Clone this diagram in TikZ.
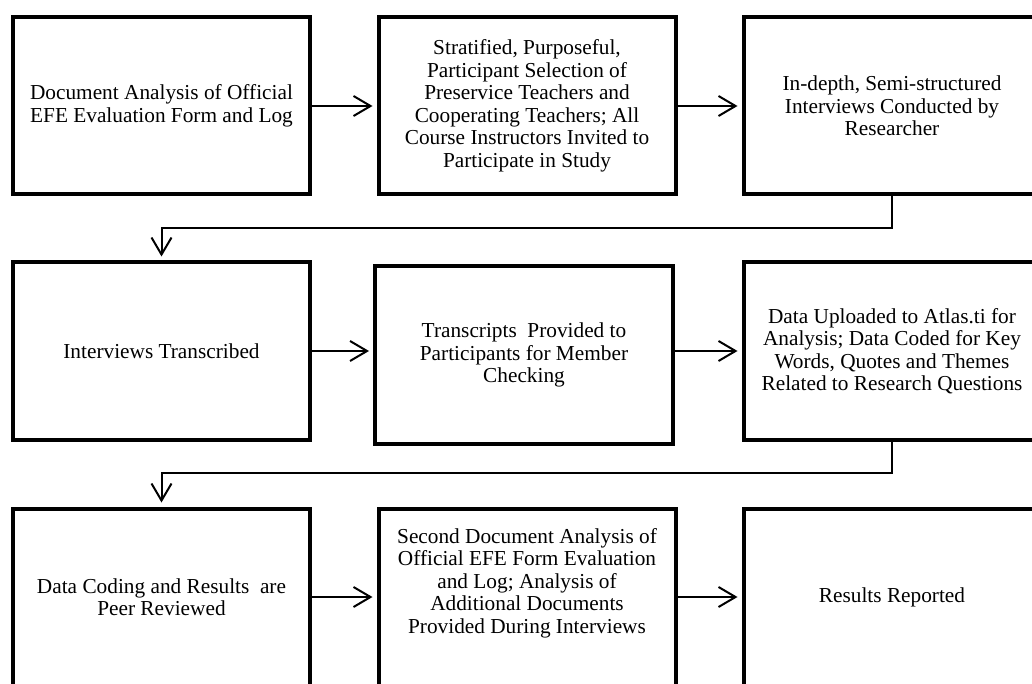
\documentclass[tikz,border=0pt]{standalone}
\usepackage{fontspec}
\setmainfont{Liberation Serif}
\usetikzlibrary{arrows.meta}
\begin{document}
\begin{tikzpicture}[x=1pt,y=-1pt,
  stepbox/.style={draw,line width=4pt,minimum width=297pt,minimum height=177pt,inner sep=0pt,align=center,font=\fontsize{21.3}{22.5}\selectfont},
  plaintext/.style={inner sep=0pt,align=center,font=\fontsize{21.3}{22.5}\selectfont},
  flow/.style={line width=2pt,-{Straight Barb[length=17pt,width=20pt]},shorten >=4pt}]
\useasboundingbox (0,0) rectangle (1032,684);
\node[stepbox] (b1) at (161.5,106) {Document Analysis of Official\\EFE Evaluation Form and Log};
\node[stepbox] (b2) at (527,106) {Stratified, Purposeful,\\Participant Selection of\\Preservice Teachers and\\Cooperating Teachers; All\\Course Instructors Invited to\\Participate in Study};
\node[stepbox] (b3) at (892,106) {In-depth, Semi-structured\\Interviews Conducted by\\Researcher};
\node[stepbox] (b4) at (161.5,351) {Interviews Transcribed};
\node[stepbox,minimum width=298pt] (b5) at (524,355) {Transcripts\ \ Provided to\\Participants for Member\\Checking};
\node[stepbox] (b6) at (892,351) {Data Uploaded to Atlas.ti for\\Analysis; Data Coded for Key\\Words, Quotes and Themes\\Related to Research Questions};
\node[stepbox] (b7) at (161.5,597) {Data Coding and Results\ \ are\\Peer Reviewed};
\node[stepbox] (b8) at (527,597) {};
\node[plaintext] (t8) at (527,583) {Second Document Analysis of\\Official EFE Form Evaluation\\and Log; Analysis of\\Additional Documents\\Provided During Interviews};
\node[stepbox] (b9) at (892,597) {Results Reported};
\draw[flow] (b1.east) -- (b2.west);
\draw[flow] (b2.east) -- (b3.west);
\draw[flow] (b4.east) -- (b4.east -| b5.west);
\draw[flow] (b6.west -| b5.east) -- (b6.west);
\draw[flow] (b7.east) -- (b8.west);
\draw[flow] (b8.east) -- (b9.west);
\draw[flow] (b3.south) -- ++(0,32) -| (b4.north);
\draw[flow] (b6.south) -- ++(0,31) -| (b7.north);
\end{tikzpicture}
\end{document}
